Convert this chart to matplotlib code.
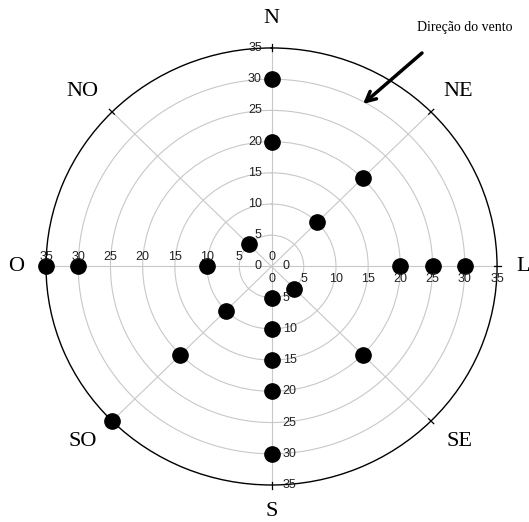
import numpy as np
import matplotlib
matplotlib.use("Agg")
import matplotlib.pyplot as plt

# wind rose: directions and the speeds marked on each one
directions = ["N", "NE", "L", "SE", "S", "SO", "O", "NO"]
angles_deg = [0, 45, 90, 135, 180, 225, 270, 315]

point_dir = ["N", "N", "NE", "NE", "L", "L", "L", "SE", "SE",
             "S", "S", "S", "S", "S", "SO", "SO", "SO", "O", "O", "O", "NO"]
point_r = [20, 30, 10, 20, 20, 25, 30, 5, 20,
           5, 10, 15, 20, 30, 10, 20, 35, 10, 30, 35, 5]

ring_values = [0, 5, 10, 15, 20, 25, 30, 35]
rmax = 35

fig = plt.figure(figsize=(5.29, 5.22), dpi=100)
ax = fig.add_axes([0.087, 0.0709, 0.8526, 0.8372], projection="polar")
ax.set_aspect("auto")
ax.set_theta_zero_location("N")
ax.set_theta_direction(-1)
ax.set_ylim(0, rmax)

ax.set_rgrids(ring_values[1:-1], labels=[])
ax.set_thetagrids(angles_deg, labels=[])
ax.grid(color="#c8c8c8", lw=0.8)
ax.spines["polar"].set_color("black")
ax.spines["polar"].set_linewidth(1.0)

ang = dict(zip(directions, np.deg2rad(angles_deg)))

# points
theta = [ang[d] for d in point_dir]
ax.plot(theta, point_r, "o", color="black", ms=11, clip_on=False, zorder=5)

# tick marks across the outer circle
for a in angles_deg:
    ax.plot([np.deg2rad(a)] * 2, [rmax - 0.5, rmax + 0.6], color="black", lw=0.9, clip_on=False)

# speed labels along the four main axes
tick_font = dict(family="Liberation Sans", fontsize=9, color="#222222", zorder=6)
for r in ring_values:
    ax.annotate(str(r), (ang["N"], r), xytext=(-7, 0), textcoords="offset points",
                ha="right", va="center", annotation_clip=False, **tick_font)
    ax.annotate(str(r), (ang["O"], r), xytext=(0, 7), textcoords="offset points",
                ha="center", va="center", annotation_clip=False, **tick_font)
    ax.annotate(str(r), (ang["L"], r), xytext=(0, -9), textcoords="offset points",
                ha="center", va="center", annotation_clip=False, **tick_font)
    ax.annotate(str(r), (ang["S"], r), xytext=(8, 0), textcoords="offset points",
                ha="left", va="center", annotation_clip=False, **tick_font)

# direction names
label_off = {"N": (0, 0), "NE": (4, 0), "L": (-3, 0), "SE": (5, 0),
             "S": (0, 2), "SO": (-6, 0), "O": (0, 0), "NO": (-6, 0)}
for d in directions:
    ax.annotate(d, (ang[d], 39.7), xytext=label_off[d], textcoords="offset points",
                family="Liberation Serif", fontsize=16, ha="center", va="center",
                annotation_clip=False)

# wind direction note
fig.text(465 / 529, 1 - 28 / 522, "Direção do vento", family="Liberation Serif",
         fontsize=10, ha="center", va="center")
ax.annotate("", xy=(363 / 529, 1 - 104 / 522), xycoords="figure fraction",
            xytext=(422 / 529, 1 - 53 / 522), textcoords="figure fraction",
            arrowprops=dict(arrowstyle="->,head_length=0.7,head_width=0.35",
                            lw=2.5, color="black", shrinkA=0, shrinkB=0))

fig.savefig("out.png", dpi=100)
